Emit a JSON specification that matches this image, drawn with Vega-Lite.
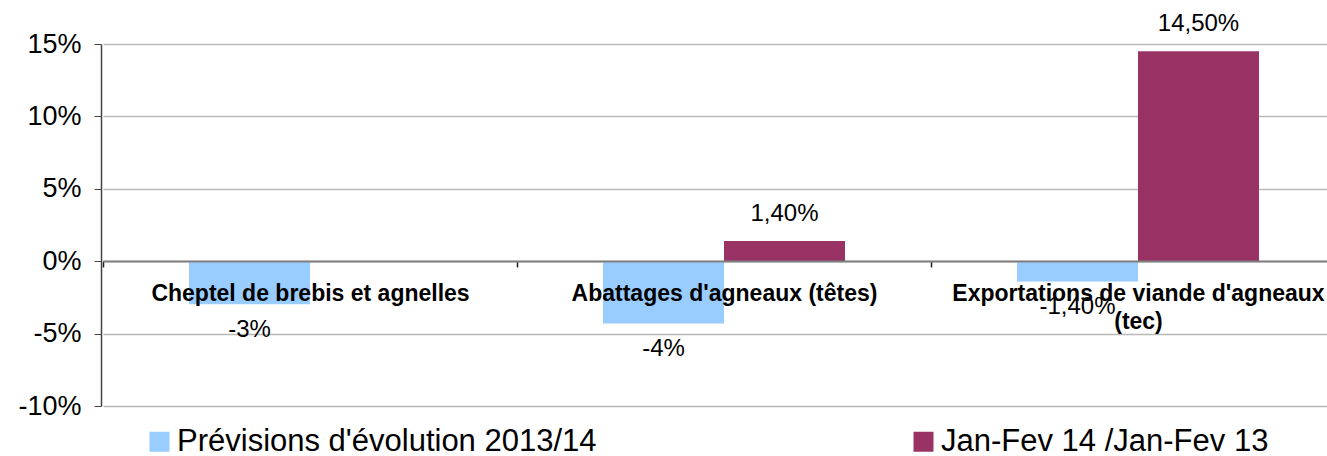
{
  "$schema": "https://vega.github.io/schema/vega-lite/v6.json",
  "width": 1226,
  "height": 362,
  "autosize": {"type": "none"},
  "padding": {"left": 101, "top": 44, "right": 0, "bottom": 50},
  "background": "white",
  "config": {"view": {"stroke": null}, "font": "Liberation Sans"},
  "data": {
    "values": [
      {"categorie": "Cheptel de brebis et agnelles", "serie": "Prévisions d'évolution 2013/14", "valeur": -2.97, "etiquette": "-3%"},
      {"categorie": "Abattages d'agneaux (têtes)", "serie": "Prévisions d'évolution 2013/14", "valeur": -4.3, "etiquette": "-4%"},
      {"categorie": "Abattages d'agneaux (têtes)", "serie": "Jan-Fev 14 /Jan-Fev 13", "valeur": 1.4, "etiquette": "1,40%"},
      {"categorie": "Exportations de viande d'agneaux (tec)", "serie": "Prévisions d'évolution 2013/14", "valeur": -1.4, "etiquette": "-1,40%"},
      {"categorie": "Exportations de viande d'agneaux (tec)", "serie": "Jan-Fev 14 /Jan-Fev 13", "valeur": 14.5, "etiquette": "14,50%"}
    ]
  },
  "encoding": {
    "x": {
      "field": "categorie",
      "type": "nominal",
      "sort": null,
      "scale": {
        "domain": ["Cheptel de brebis et agnelles", "Abattages d'agneaux (têtes)", "Exportations de viande d'agneaux (tec)"],
        "range": [2, 1244],
        "paddingInner": 0,
        "paddingOuter": 0
      },
      "axis": {
        "orient": "bottom",
        "offset": -145,
        "title": null,
        "grid": false,
        "domainColor": "#808080",
        "domainWidth": 2,
        "ticks": true,
        "tickBand": "extent",
        "tickSize": 6,
        "tickWidth": 1.5,
        "tickColor": "#222222",
        "labelFontSize": 23,
        "labelFontWeight": "bold",
        "labelColor": "#000000",
        "labelPadding": 15,
        "labelLimit": 0,
        "labelAngle": 0,
        "labelLineHeight": 28,
        "labelExpr": "datum.value == \"Exportations de viande d'agneaux (tec)\" ? [\"Exportations de viande d'agneaux\", '(tec)'] : datum.value",
        "zindex": 1
      }
    },
    "xOffset": {
      "field": "serie",
      "type": "nominal",
      "scale": {
        "domain": ["Prévisions d'évolution 2013/14", "Jan-Fev 14 /Jan-Fev 13"],
        "paddingInner": 0,
        "paddingOuter": 0.7107
      }
    },
    "y": {
      "field": "valeur",
      "type": "quantitative",
      "scale": {"domain": [-10, 15], "nice": false, "zero": false},
      "axis": {
        "title": null,
        "values": [-10, -5, 0, 5, 10, 15],
        "labelExpr": "datum.value + '%'",
        "labelFontSize": 27,
        "labelColor": "#000000",
        "labelPadding": 13,
        "tickSize": 7,
        "tickColor": "#444444",
        "domainColor": "#444444",
        "domainWidth": 1.5,
        "grid": true,
        "gridColor": "#b8b8b8",
        "gridWidth": 1.5,
        "zindex": 0
      }
    }
  },
  "layer": [
    {
      "mark": {"type": "bar"},
      "encoding": {
        "color": {
          "field": "serie",
          "type": "nominal",
          "scale": {
            "domain": ["Prévisions d'évolution 2013/14", "Jan-Fev 14 /Jan-Fev 13"],
            "range": ["#99CCFF", "#993366"]
          },
          "legend": {
            "orient": "none",
            "legendX": 43,
            "legendY": 382,
            "direction": "horizontal",
            "columns": 2,
            "columnPadding": 311,
            "symbolType": "square",
            "symbolSize": 400,
            "symbolStrokeWidth": 0,
            "symbolOpacity": 1,
            "labelFontSize": 31,
            "labelOffset": 2,
            "labelLimit": 0,
            "labelColor": "#000000",
            "title": null,
            "padding": 0
          }
        }
      }
    },
    {
      "transform": [{"filter": "datum.valeur >= 0"}],
      "mark": {"type": "text", "dy": -20, "baseline": "alphabetic", "fontSize": 24, "color": "#000000"},
      "encoding": {"text": {"field": "etiquette", "type": "nominal"}}
    },
    {
      "transform": [{"filter": "datum.valeur < 0"}],
      "mark": {"type": "text", "dy": 33, "baseline": "alphabetic", "fontSize": 24, "color": "#000000"},
      "encoding": {"text": {"field": "etiquette", "type": "nominal"}}
    }
  ]
}
